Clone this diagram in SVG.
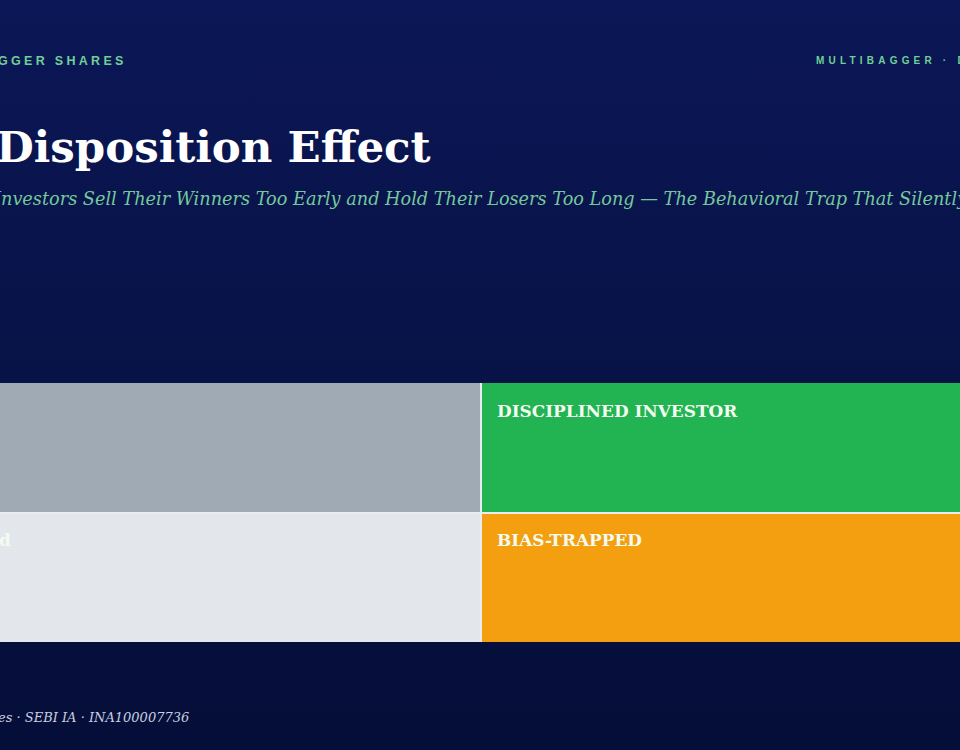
<svg xmlns="http://www.w3.org/2000/svg" width="960" height="750" viewBox="0 0 960 750">
<defs>
<linearGradient id="bg" x1="0" y1="0" x2="0" y2="1">
<stop offset="0" stop-color="#0b1756"/>
<stop offset="1" stop-color="#050e38"/>
</linearGradient>
<style>
.hdr{font-family:"Liberation Sans",Arial,sans-serif;font-weight:bold;fill:#6fcf97}
.title{font-family:"DejaVu Serif","Liberation Serif",serif;font-weight:bold;fill:#ffffff}
.sub{font-family:"DejaVu Serif","Liberation Serif",serif;font-style:italic;fill:#74c99a}
.lbl{font-family:"DejaVu Serif","Liberation Serif",serif;font-weight:bold;fill:#f3fbf1;font-size:16.9px}
.foot{font-family:"DejaVu Serif","Liberation Serif",serif;font-style:italic;fill:#c9cfe0;font-size:13px}
</style>
</defs>
<rect width="960" height="750" fill="url(#bg)"/>
<text class="hdr" x="-2" y="65" font-size="12.5" letter-spacing="3.3">GGER SHARES</text>
<text class="hdr" x="816" y="64" font-size="10" letter-spacing="4.2">MULTIBAGGER · D</text>
<text class="title" x="-4" y="162" font-size="43.5">Disposition Effect</text>
<text class="sub" x="-6" y="205" font-size="17.7">Investors Sell Their Winners Too Early and Hold Their Losers Too Long — The Behavioral Trap That Silently</text>
<rect x="0" y="383" width="960" height="259" fill="#e9edf1"/>
<g id="q-tl"><rect x="0" y="383" width="480" height="129" fill="#a0aab4"/></g>
<g id="q-tr"><rect x="482" y="383" width="478" height="129" fill="#22b352"/><text class="lbl" x="497" y="417">DISCIPLINED INVESTOR</text></g>
<g id="q-bl"><rect x="0" y="514" width="480" height="128" fill="#e3e7ec"/><text class="lbl" x="-1" y="546">d</text></g>
<g id="q-br"><rect x="482" y="514" width="478" height="128" fill="#f39f0f"/><text class="lbl" x="497" y="546">BIAS-TRAPPED</text></g>
<g id="connectors"/>
<text class="foot" x="-2" y="722">es · SEBI IA · INA100007736</text>
</svg>
